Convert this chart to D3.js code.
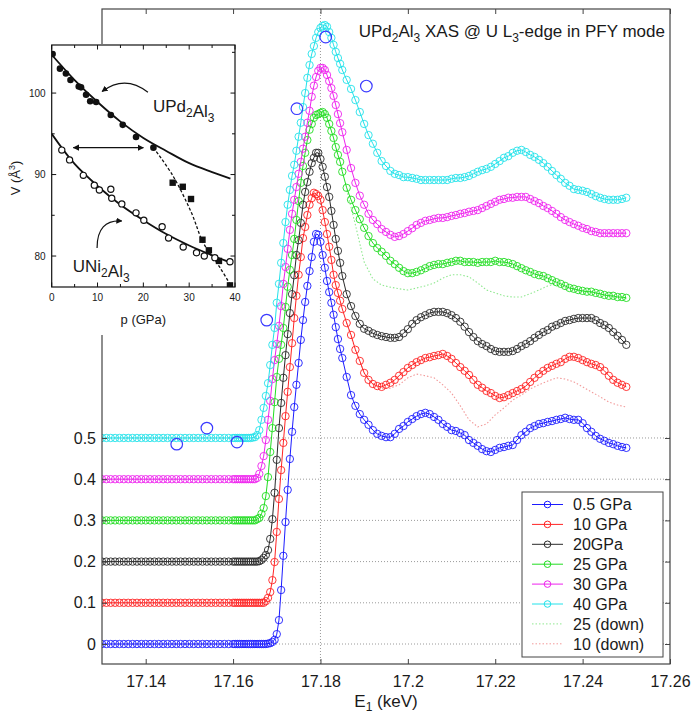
<!DOCTYPE html>
<html>
<head>
<meta charset="utf-8">
<script src="https://cdn.jsdelivr.net/npm/d3@7"></script>
<style>
  body { margin: 0; background: #fff; }
  text { font-family: Arial, "Liberation Sans", sans-serif; fill: #1a1a1a; }
</style>
</head>
<body>
<script>
const width = 693;
const height = 715;

// ---- main XAS data ----
// incident energy E1 (keV), shared by all six spectra
const energy = [
  17.130,17.131,17.132,17.133,17.134,17.135,17.136,17.137,17.138,17.139,
  17.140,17.141,17.142,17.143,17.144,17.145,17.146,17.147,17.148,17.149,
  17.150,17.151,17.152,17.153,17.154,17.155,17.156,17.157,17.158,17.159,
  17.160,
  17.1605,17.161,17.1615,17.162,17.1625,17.163,17.1635,17.164,17.1645,17.165,
  17.1655,17.166,17.1665,17.167,17.1675,17.168,17.1685,17.169,17.1695,17.170,
  17.1705,17.171,17.1715,17.172,17.1725,17.173,17.1735,17.174,17.1745,17.175,
  17.1755,17.176,17.1765,17.177,17.1775,17.178,17.1785,17.179,17.1795,17.180,
  17.1805,17.181,17.1815,17.182,17.1825,17.183,17.1835,17.184,17.1845,17.185,
  17.186,17.187,17.188,17.189,17.190,17.191,17.192,17.193,17.194,17.195,
  17.196,17.197,17.198,17.199,17.200,17.201,17.202,17.203,17.204,17.205,
  17.206,17.207,17.208,17.209,17.210,17.211,17.212,17.213,17.214,17.215,
  17.216,17.217,17.218,17.219,17.220,17.221,17.222,17.223,17.224,17.225,
  17.226,17.227,17.228,17.229,17.230,17.231,17.232,17.233,17.234,17.235,
  17.236,17.237,17.238,17.239,17.240,17.241,17.242,17.243,17.244,17.245,
  17.246,17.247,17.248,17.249,17.250
];

// normalized intensity of each spectrum (before vertical offset)
const gpa05 = [
  0,0,0,0,0,0,0,0,0,0, 0,0,0,0,0,0,0,0,0,0, 0,0,0,0,0,0,0,0,0,0, 0,
  0,0,0,0,0,0,0,0,0,0, 0,0,0,0,0,.001,.002,.005,.01,.024,
  .058,.131,.214,.296,.374,.449,.515,.575,.629,.682,
  .738,.786,.830,.869,.905,.939,.976,.995,.993,.976,
  .944,.913,.881,.854,.828,.799,.769,.740,.716,.694,
  .648,.604,.578,.558,.544,.532,.519,.510,.505,.502,
  .502,.510,.522,.529,.539,.546,.553,.558,.561,.558,
  .551,.544,.534,.527,.519,.517,.512,.507,.495,.488,
  .481,.473,.468,.466,.471,.476,.478,.481,.483,.495,
  .507,.515,.524,.529,.534,.536,.539,.541,.544,.546,
  .549,.546,.544,.544,.536,.524,.515,.505,.498,.493,
  .488,.485,.481,.478,.476
];
const gpa10 = [
  0,0,0,0,0,0,0,0,0,0, 0,0,0,0,0,0,0,0,0,0, 0,0,0,0,0,0,0,0,0,0, 0,
  0,0,0,0,0,0,0,0,0,0, 0,0,0,0,.004,.012,.026,.055,.099,.172,
  .252,.322,.388,.453,.512,.572,.630,.691,.745,.796,
  .839,.885,.912,.941,.966,.982,.995,.992,.987,.978,
  .953,.924,.895,.864,.832,.796,.771,.752,.733,.713,
  .679,.650,.614,.587,.558,.541,.531,.526,.524,.529,
  .534,.541,.551,.560,.570,.577,.584,.589,.594,.596,
  .599,.601,.604,.599,.592,.582,.572,.563,.553,.541,
  .529,.522,.514,.509,.502,.497,.499,.504,.509,.514,
  .519,.526,.536,.546,.555,.563,.570,.575,.580,.584,
  .592,.597,.597,.594,.589,.584,.580,.577,.572,.563,
  .551,.541,.534,.529,.524
];
const gpa20 = [
  0,0,0,0,0,0,0,0,0,0, 0,0,0,0,0,0,0,0,0,0, 0,0,0,0,0,0,0,0,0,0, 0,
  0,0,0,0,0,0,0,0,0,0, 0,.001,.004,.009,.016,.028,.055,.103,.167,.247,
  .324,.385,.446,.501,.552,.603,.649,.695,.744,.780,
  .822,.866,.897,.921,.946,.967,.980,.992,.992,.977,
  .958,.934,.909,.885,.851,.817,.783,.754,.725,.693,
  .649,.620,.596,.577,.565,.560,.554,.550,.547,.545,
  .543,.543,.545,.554,.564,.577,.586,.593,.598,.603,
  .606,.606,.606,.603,.598,.591,.582,.570,.557,.545,
  .535,.528,.523,.516,.511,.509,.509,.509,.511,.516,
  .523,.528,.535,.543,.550,.557,.562,.570,.574,.579,
  .584,.586,.589,.591,.591,.591,.591,.586,.579,.574,
  .567,.557,.548,.538,.526
];
const gpa25 = [
  0,0,0,0,0,0,0,0,0,0, 0,0,0,0,0,0,0,0,0,0, 0,0,0,0,0,0,0,0,0,0, 0,
  0,0,0,0,0,0,0,0,0,0, .003,.006,.016,.030,.059,.105,.166,.224,.287,.348,
  .392,.426,.467,.518,.567,.608,.644,.683,.729,.775,
  .819,.860,.892,.923,.948,.962,.977,.984,.986,.989,
  .991,.986,.977,.962,.945,.928,.906,.887,.870,.846,
  .807,.778,.753,.731,.710,.690,.673,.661,.652,.642,
  .630,.622,.613,.605,.600,.600,.603,.607,.612,.617,
  .620,.622,.622,.625,.627,.630,.630,.627,.627,.627,
  .625,.627,.627,.627,.630,.627,.627,.625,.622,.617,
  .612,.607,.603,.598,.595,.593,.588,.583,.578,.574,
  .569,.564,.562,.559,.557,.555,.555,.552,.550,.547,
  .545,.545,.542,.542,.540
];
const gpa30 = [
  0,0,0,0,0,0,0,0,0,0, 0,0,0,0,0,0,0,0,0,0, 0,0,0,0,0,0,0,0,0,0, 0,
  0,0,0,0,0,0,0,0,0,0, .003,.013,.032,.056,.095,.144,.190,.243,.289,.328,
  .372,.420,.474,.515,.559,.605,.644,.678,.709,.741,
  .770,.802,.831,.865,.894,.928,.955,.976,.991,.998,
  .998,.993,.981,.966,.949,.930,.908,.886,.864,.842,
  .799,.755,.719,.688,.666,.644,.629,.619,.607,.600,
  .593,.588,.590,.595,.602,.609,.617,.622,.627,.629,
  .632,.634,.634,.636,.639,.641,.644,.646,.649,.651,
  .653,.658,.663,.668,.673,.678,.680,.683,.683,.685,
  .685,.685,.680,.675,.670,.663,.658,.651,.644,.636,
  .629,.624,.619,.615,.610,.607,.602,.600,.597,.597,
  .597,.597,.597,.597,.597
];
const gpa40 = [
  0,0,0,0,0,0,0,0,0,0, 0,0,0,0,0,0,0,0,0,0, 0,0,0,0,0,0,0,0,0,0, 0,
  0,0,0,0,0,0,0,0,.001,.002, .007,.019,.044,.073,.102,.133,.177,.226,.267,.328,
  .374,.425,.473,.524,.566,.602,.636,.663,.697,.731,
  .765,.803,.837,.874,.905,.932,.951,.971,.985,.995,
  1.0,1.002,.998,.985,.971,.954,.937,.922,.908,.893,
  .869,.847,.820,.791,.762,.735,.714,.692,.672,.660,
  .648,.641,.638,.633,.633,.631,.629,.626,.626,.626,
  .626,.626,.626,.626,.629,.631,.631,.633,.636,.641,
  .646,.650,.653,.658,.665,.672,.680,.684,.692,.697,
  .699,.694,.687,.682,.675,.667,.658,.648,.638,.629,
  .619,.612,.604,.602,.600,.597,.592,.587,.583,.580,
  .578,.578,.578,.580,.583
];

const seriesLabels = ["0.5 GPa", "10 GPa", "20GPa", "25 GPa", "30 GPa", "40 GPa"];
const seriesOffsets = [0, 0.1, 0.2, 0.3, 0.4, 0.5];
const seriesColors = ["#1c1cff", "#ff2424", "#2a2a2a", "#22dd22", "#ee22ee", "#22e2ea"];

// pressure-release ("down") scans, drawn dotted
const downEnergy = [
  17.186,17.188,17.190,17.192,17.194,17.196,17.198,17.200,17.202,17.204,
  17.206,17.208,17.210,17.212,17.214,17.216,17.218,17.220,17.222,17.224,
  17.226,17.228,17.230,17.232,17.234,17.236,17.238,17.240,17.242,17.244,
  17.246,17.248,17.250
];
const down25 = [
  .802,.717,.627,.586,.571,.566,.562,.559,.564,.569,
  .576,.588,.596,.596,.591,.576,.559,.552,.545,.542,
  .542,.550,.559,.569,.574,.566,.560,.555,.553,.549,
  .545,.541,.538
];
const down10 = [
  .679,.614,.558,.531,.521,.521,.529,.546,.555,.551,
  .546,.529,.509,.478,.444,.427,.434,.456,.473,.492,
  .504,.519,.529,.538,.546,.543,.536,.524,.512,.500,
  .487,.480,.475
];
const downLabels = ["25 (down)", "10 (down)"];
const downOffsets = [0.3, 0.1];
const downColors = ["#8fe88f", "#f29a9a"];

// stray large blue circles around the 40 GPa trace (absolute values)
const strayE = [17.1471, 17.1540, 17.1609, 17.1677, 17.1746, 17.1812, 17.1905];
const strayV = [0.485, 0.524, 0.490, 0.786, 1.299, 1.473, 1.354];

const xTicks = [17.14, 17.16, 17.18, 17.2, 17.22, 17.24, 17.26];
const yTicks = [0, 0.1, 0.2, 0.3, 0.4, 0.5];

// ---- inset: V(p) ----
const pTicks = [0, 10, 20, 30, 40];
const pMinor = [5, 15, 25, 35];
const vTicks = [80, 90, 100];
const vMinor = [85, 95, 105];
const updP = [0.2, 1.8, 3.1, 4.1, 5.9, 6.4, 7.5, 8.4, 9.7, 12.9, 15.5, 18.4, 22.2];
const updV = [104.8, 103.0, 102.4, 101.6, 100.8, 100.7, 99.8, 99.0, 98.9, 97.3, 96.1, 94.6, 93.3];
const sqP = [26.4, 28.6, 30.4, 32.9, 34.3, 36.5, 38.9];
const sqV = [89.0, 88.5, 87.0, 82.0, 80.7, 79.4, 76.4];
const uniP = [2.2, 3.9, 6.9, 9.3, 10.4, 12.9, 13.1, 15.3, 18.4, 20.1, 24.1, 25.5, 28.7, 31.6, 33.3, 35.6, 38.9];
const uniV = [93.0, 91.8, 89.9, 88.7, 88.1, 88.2, 87.1, 86.4, 85.3, 84.4, 83.6, 82.2, 81.1, 80.4, 80.0, 79.8, 79.3];
const fitP = [0, 5, 10, 15, 20, 25, 30, 35, 39];
const updFitV = [104.7, 101.6, 98.9, 96.5, 94.5, 92.9, 91.4, 90.3, 89.5];
const uniFitV = [95.0, 91.3, 88.6, 86.3, 84.4, 82.7, 81.3, 80.1, 79.2];
const dashP = [22.2, 26.5, 30.5, 33.1, 36.7, 39.6];
const dashV = [93.3, 89.8, 85.3, 81.6, 78.6, 75.9];

// ---------------------------------------------------------------
let svg = d3
  .select("body")
  .append("svg")
  .attr("width", width)
  .attr("height", height);

svg.append("rect").attr("width", width).attr("height", height).attr("fill", "#fff");

let margin = { top: 9, right: 23, bottom: 51, left: 102 };

let x = d3
  .scaleLinear()
  .domain([17.13, 17.26])
  .range([margin.left, width - margin.right]);

let y = d3
  .scaleLinear()
  .domain([-0.0485, 1.541])
  .range([height - margin.bottom, margin.top]);

let defs = svg.append("defs");
defs
  .append("clipPath")
  .attr("id", "plot-clip")
  .append("rect")
  .attr("x", x.range()[0])
  .attr("y", y.range()[1])
  .attr("width", x.range()[1] - x.range()[0])
  .attr("height", y.range()[0] - y.range()[1]);

defs
  .append("marker")
  .attr("id", "head")
  .attr("viewBox", "0 0 10 10")
  .attr("refX", 9)
  .attr("refY", 5)
  .attr("markerWidth", 5)
  .attr("markerHeight", 5)
  .attr("orient", "auto-start-reverse")
  .append("path")
  .attr("d", "M0,0L10,5L0,10z")
  .attr("fill", "#111");

// grid
let grid = svg.append("g").attr("id", "grid");
grid
  .selectAll("line.h")
  .data(yTicks)
  .join("line")
  .attr("class", "h")
  .attr("x1", x.range()[0])
  .attr("x2", x.range()[1])
  .attr("y1", (d) => y(d))
  .attr("y2", (d) => y(d))
  .attr("stroke", "#9a9a9a")
  .attr("stroke-dasharray", "1,2");
grid
  .append("line")
  .attr("x1", x(17.18))
  .attr("x2", x(17.18))
  .attr("y1", y.range()[0])
  .attr("y2", y.range()[1])
  .attr("stroke", "#9a9a9a")
  .attr("stroke-dasharray", "1,2");

// data
let spectra = [gpa05, gpa10, gpa20, gpa25, gpa30, gpa40].map((vals, i) => ({
  label: seriesLabels[i],
  color: seriesColors[i],
  pts: energy.map((e, j) => ({ e: e, v: vals[j] + seriesOffsets[i] })),
}));

let downs = [down25, down10].map((vals, i) => ({
  label: downLabels[i],
  color: downColors[i],
  pts: downEnergy.map((e, j) => ({ e: e, v: vals[j] + downOffsets[i] })),
}));

let line = d3
  .line()
  .x((d) => x(d.e))
  .y((d) => y(d.v));

let plot = svg.append("g").attr("clip-path", "url(#plot-clip)");

downs.forEach((s) => {
  plot
    .append("path")
    .datum(s.pts)
    .attr("d", line)
    .attr("fill", "none")
    .attr("stroke", s.color)
    .attr("stroke-width", 1.1)
    .attr("stroke-dasharray", "1.5,2");
});

spectra.forEach((s) => {
  let g = plot.append("g");
  g.append("path")
    .datum(s.pts)
    .attr("d", line)
    .attr("fill", "none")
    .attr("stroke", s.color)
    .attr("stroke-width", 1);
  g.selectAll("circle")
    .data(s.pts)
    .join("circle")
    .attr("cx", (d) => x(d.e))
    .attr("cy", (d) => y(d.v))
    .attr("r", 3.7)
    .attr("fill", "none")
    .attr("stroke", s.color)
    .attr("stroke-width", 0.9);
});

plot
  .selectAll("circle.stray")
  .data(strayE)
  .join("circle")
  .attr("class", "stray")
  .attr("cx", (d) => x(d))
  .attr("cy", (d, i) => y(strayV[i]))
  .attr("r", 5.8)
  .attr("fill", "none")
  .attr("stroke", "#3a3aff")
  .attr("stroke-width", 1.2);

// axes
function styleAxis(g) {
  g.select(".domain").remove();
  g.selectAll(".tick line").attr("stroke", "#444");
  g.selectAll(".tick text").attr("font-size", 16).attr("fill", "#1a1a1a");
  g.attr("font-family", null);
}

svg
  .append("g")
  .attr("transform", `translate(0, ${y.range()[0]})`)
  .call(d3.axisBottom(x).tickValues(xTicks).tickSize(-5).tickSizeOuter(0).tickPadding(12).tickFormat((d) => d))
  .call(styleAxis);
svg
  .append("g")
  .attr("transform", `translate(0, ${y.range()[1]})`)
  .call(d3.axisTop(x).tickValues(xTicks).tickSize(-5).tickSizeOuter(0).tickFormat(""))
  .call(styleAxis);
svg
  .append("g")
  .attr("transform", `translate(${x.range()[0]}, 0)`)
  .call(d3.axisLeft(y).tickValues(yTicks).tickSize(-5).tickSizeOuter(0).tickPadding(6).tickFormat((d) => d))
  .call(styleAxis);
svg
  .append("g")
  .attr("transform", `translate(${x.range()[1]}, 0)`)
  .call(d3.axisRight(y).tickValues(yTicks).tickSize(-5).tickSizeOuter(0).tickFormat(""))
  .call(styleAxis);

svg
  .append("rect")
  .attr("x", x.range()[0])
  .attr("y", y.range()[1])
  .attr("width", x.range()[1] - x.range()[0])
  .attr("height", y.range()[0] - y.range()[1])
  .attr("fill", "none")
  .attr("stroke", "#444")
  .attr("stroke-width", 1.2);

// x label
let xl = svg
  .append("text")
  .attr("x", (x.range()[0] + x.range()[1]) / 2)
  .attr("y", 707)
  .attr("text-anchor", "middle")
  .attr("font-size", 17);
xl.append("tspan").text("E");
xl.append("tspan").attr("font-size", 12).attr("dy", 4).text("1");
xl.append("tspan").attr("dy", -4).text(" (keV)");

// title
let title = svg
  .append("text")
  .attr("x", 665)
  .attr("y", 37)
  .attr("text-anchor", "end")
  .attr("font-size", 17);
title.append("tspan").text("UPd");
title.append("tspan").attr("font-size", 12).attr("dy", 5).text("2");
title.append("tspan").attr("dy", -5).text("Al");
title.append("tspan").attr("font-size", 12).attr("dy", 5).text("3");
title.append("tspan").attr("dy", -5).text(" XAS @ U L");
title.append("tspan").attr("font-size", 12).attr("dy", 5).text("3");
title.append("tspan").attr("dy", -5).text("-edge in PFY mode");

// legend
let legendItems = spectra
  .map((s) => ({ label: s.label, color: s.color, dotted: false }))
  .concat(downs.map((s) => ({ label: s.label, color: s.color, dotted: true })));

let legend = svg.append("g").attr("id", "legend").attr("transform", "translate(522, 492)");
legend
  .append("rect")
  .attr("width", 141)
  .attr("height", 165)
  .attr("fill", "#fff")
  .attr("stroke", "#444")
  .attr("stroke-width", 1);

let item = legend
  .selectAll("g.item")
  .data(legendItems)
  .join("g")
  .attr("class", "item")
  .attr("transform", (d, i) => `translate(0, ${12.5 + i * 19.9})`);
item
  .append("line")
  .attr("x1", 10)
  .attr("x2", 41)
  .attr("stroke", (d) => d.color)
  .attr("stroke-width", 1)
  .attr("stroke-dasharray", (d) => (d.dotted ? "1.5,2" : null));
item
  .filter((d) => !d.dotted)
  .append("circle")
  .attr("cx", 25.5)
  .attr("r", 3.3)
  .attr("fill", "none")
  .attr("stroke", (d) => d.color);
item
  .append("text")
  .attr("x", 51)
  .attr("dy", "0.36em")
  .attr("font-size", 16)
  .text((d) => d.label);

// ---------------- inset ----------------
let inset = svg.append("g").attr("id", "inset");
inset.append("rect").attr("x", 0).attr("y", 44).attr("width", 241).attr("height", 291).attr("fill", "#fff");

let px = d3.scaleLinear().domain([0, 40]).range([51.7, 235]);
let pv = d3.scaleLinear().domain([76.2, 105.9]).range([287, 45]);

defs
  .append("clipPath")
  .attr("id", "inset-clip")
  .append("rect")
  .attr("x", px.range()[0])
  .attr("y", pv.range()[1])
  .attr("width", px.range()[1] - px.range()[0])
  .attr("height", pv.range()[0] - pv.range()[1]);

let inner = inset.append("g").attr("clip-path", "url(#inset-clip)");

let fitLine = d3
  .line()
  .x((d) => px(d[0]))
  .y((d) => pv(d[1]))
  .curve(d3.curveCatmullRom);

inner
  .append("path")
  .datum(fitP.map((p, i) => [p, updFitV[i]]))
  .attr("d", fitLine)
  .attr("fill", "none")
  .attr("stroke", "#111")
  .attr("stroke-width", 1.8);
inner
  .append("path")
  .datum(fitP.map((p, i) => [p, uniFitV[i]]))
  .attr("d", fitLine)
  .attr("fill", "none")
  .attr("stroke", "#111")
  .attr("stroke-width", 1.8);
inner
  .append("path")
  .datum(dashP.map((p, i) => [p, dashV[i]]))
  .attr("d", fitLine)
  .attr("fill", "none")
  .attr("stroke", "#111")
  .attr("stroke-width", 1.3)
  .attr("stroke-dasharray", "3,2");

inner
  .selectAll("circle.upd")
  .data(updP)
  .join("circle")
  .attr("class", "upd")
  .attr("cx", (d) => px(d))
  .attr("cy", (d, i) => pv(updV[i]))
  .attr("r", 3.3)
  .attr("fill", "#111");
inner
  .selectAll("rect.sq")
  .data(sqP)
  .join("rect")
  .attr("class", "sq")
  .attr("x", (d) => px(d) - 3.2)
  .attr("y", (d, i) => pv(sqV[i]) - 3.2)
  .attr("width", 6.4)
  .attr("height", 6.4)
  .attr("fill", "#111");
inner
  .selectAll("circle.uni")
  .data(uniP)
  .join("circle")
  .attr("class", "uni")
  .attr("cx", (d) => px(d))
  .attr("cy", (d, i) => pv(uniV[i]))
  .attr("r", 3.1)
  .attr("fill", "#fff")
  .attr("stroke", "#111")
  .attr("stroke-width", 1.2);

// annotation arrows
inset
  .append("line")
  .attr("x1", px(4.7))
  .attr("x2", px(20))
  .attr("y1", pv(93.3))
  .attr("y2", pv(93.3))
  .attr("stroke", "#111")
  .attr("stroke-width", 1.3)
  .attr("marker-start", "url(#head)")
  .attr("marker-end", "url(#head)");

let arrowPath = (a, c, b) =>
  `M${px(a[0])},${pv(a[1])}Q${px(c[0])},${pv(c[1])} ${px(b[0])},${pv(b[1])}`;
inset
  .append("path")
  .attr("d", arrowPath([21.0, 100.1], [16.0, 102.3], [11.0, 100.2]))
  .attr("fill", "none")
  .attr("stroke", "#111")
  .attr("stroke-width", 1.2)
  .attr("marker-end", "url(#head)");
inset
  .append("path")
  .attr("d", arrowPath([9.9, 81.0], [9.9, 84.5], [15.3, 84.3]))
  .attr("fill", "none")
  .attr("stroke", "#111")
  .attr("stroke-width", 1.2)
  .attr("marker-end", "url(#head)");

function compound(g, parts) {
  parts.forEach(([t, sub]) => {
    g.append("tspan").text(t);
    if (sub) g.append("tspan").attr("font-size", 12).attr("dy", 5).text(sub);
    if (sub) g.append("tspan").attr("dy", -5).text("");
  });
}
let updLabel = inset.append("text").attr("x", px(22.1)).attr("y", pv(97.7)).attr("font-size", 17);
compound(updLabel, [["UPd", "2"], ["Al", "3"]]);
let uniLabel = inset.append("text").attr("x", px(4.6)).attr("y", pv(78.0)).attr("font-size", 17);
compound(uniLabel, [["UNi", "2"], ["Al", "3"]]);

// inset frame and ticks
inset
  .append("rect")
  .attr("x", px.range()[0])
  .attr("y", pv.range()[1])
  .attr("width", px.range()[1] - px.range()[0])
  .attr("height", pv.range()[0] - pv.range()[1])
  .attr("fill", "none")
  .attr("stroke", "#111")
  .attr("stroke-width", 1.2);

let tk = inset.append("g").attr("stroke", "#111").attr("stroke-width", 1);
pTicks.concat(pMinor).forEach((p) => {
  let len = pTicks.includes(p) ? 4.5 : 3;
  tk.append("line").attr("x1", px(p)).attr("x2", px(p)).attr("y1", pv.range()[0]).attr("y2", pv.range()[0] - len);
  tk.append("line").attr("x1", px(p)).attr("x2", px(p)).attr("y1", pv.range()[1]).attr("y2", pv.range()[1] + len);
});
vTicks.concat(vMinor).forEach((v) => {
  let len = vTicks.includes(v) ? 4.5 : 3;
  tk.append("line").attr("x1", px.range()[0]).attr("x2", px.range()[0] + len).attr("y1", pv(v)).attr("y2", pv(v));
  tk.append("line").attr("x1", px.range()[1]).attr("x2", px.range()[1] - len).attr("y1", pv(v)).attr("y2", pv(v));
});

inset
  .selectAll("text.pt")
  .data(pTicks)
  .join("text")
  .attr("class", "pt")
  .attr("x", (d) => px(d))
  .attr("y", 301)
  .attr("text-anchor", "middle")
  .attr("font-size", 10)
  .text((d) => d);
inset
  .selectAll("text.vt")
  .data(vTicks)
  .join("text")
  .attr("class", "vt")
  .attr("x", px.range()[0] - 6)
  .attr("y", (d) => pv(d))
  .attr("dy", "0.35em")
  .attr("text-anchor", "end")
  .attr("font-size", 10)
  .text((d) => d);

inset
  .append("text")
  .attr("x", (px.range()[0] + px.range()[1]) / 2)
  .attr("y", 324)
  .attr("text-anchor", "middle")
  .attr("font-size", 13)
  .text("p (GPa)");

let vl = inset
  .append("text")
  .attr("transform", "translate(20, 178) rotate(-90)")
  .attr("text-anchor", "middle")
  .attr("font-size", 13);
vl.append("tspan").text("V (Å");
vl.append("tspan").attr("font-size", 9).attr("dy", -5).text("3");
vl.append("tspan").attr("dy", 5).text(")");
</script>
</body>
</html>
